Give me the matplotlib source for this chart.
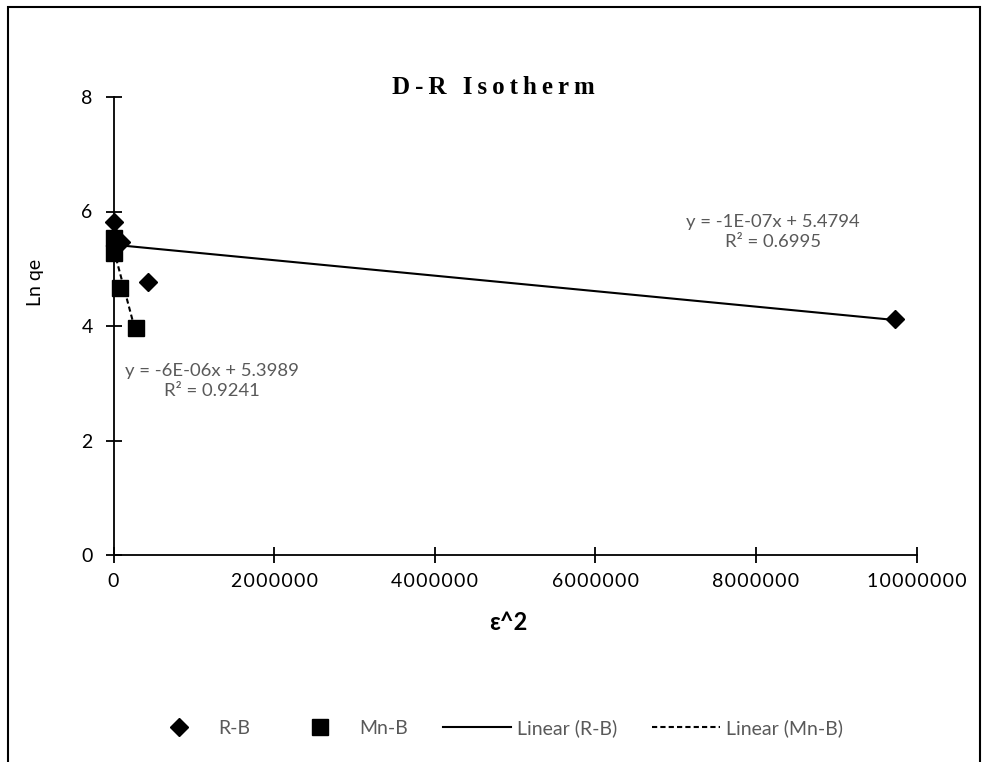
import numpy as np
import matplotlib
matplotlib.use('Agg')
import matplotlib.pyplot as plt
from matplotlib.patches import Rectangle
from matplotlib.lines import Line2D
from matplotlib.ticker import FuncFormatter

plt.rcParams['font.family'] = ['Lato', 'DejaVu Sans']

# values
rb_x = [5000, 20000, 90000, 432000, 9730000]
rb_y = [5.81, 5.55, 5.46, 4.76, 4.13]
mnb_x = [5000, 12000, 79000, 278000]
mnb_y = [5.53, 5.28, 4.66, 3.96]

x_ticks = [0, 2000000, 4000000, 6000000, 8000000, 10000000]
y_ticks = [0, 2, 4, 6, 8]

rb_eq = 'y = -1E-07x + 5.4794\nR² = 0.6995'
mnb_eq = 'y = -6E-06x + 5.3989\nR² = 0.9241'

W, H = 982, 762
DASH = (0, (2.5, 1.5))
fig = plt.figure(figsize=(W / 100, H / 100), dpi=100)

# chart area border (bottom edge falls outside the picture)
fig.patches.append(Rectangle((8 / W, -0.05), (980 - 8) / W, 1.05 - 7 / H,
                             transform=fig.transFigure, fill=False,
                             edgecolor='black', linewidth=1.5))

ax = fig.add_axes([113.5 / W, 1 - 555 / H, (916.7 - 113.5) / W, (555 - 97) / H])
ax.set_xlim(0, 10000000)
ax.set_ylim(0, 8)
ax.patch.set_alpha(0)
for s in ['top', 'right']:
    ax.spines[s].set_visible(False)
for s in ['left', 'bottom']:
    ax.spines[s].set_linewidth(1.3)

ax.set_xticks(x_ticks)
ax.set_yticks(y_ticks)
ax.xaxis.set_major_formatter(FuncFormatter(lambda v, p: '\u200a'.join(str(int(v)))))
ax.tick_params(direction='inout', length=12, width=1.3, labelsize=14,
               labelcolor='black')
ax.tick_params(axis='x', pad=7)
ax.tick_params(axis='y', pad=9)

# scatter points
ax.plot(rb_x, rb_y, linestyle='none', marker='D', markersize=9,
        color='black', clip_on=False, zorder=4)
ax.plot(mnb_x, mnb_y, linestyle='none', marker='s', markersize=11,
        color='black', clip_on=False, zorder=4)

# linear trendlines over each series' range
k1, b1 = np.polyfit(rb_x, rb_y, 1)
xs1 = np.array([min(rb_x), max(rb_x)])
ax.plot(xs1, k1 * xs1 + b1, color='black', linewidth=1.5, zorder=3)
k2, b2 = np.polyfit(mnb_x, mnb_y, 1)
xs2 = np.array([min(mnb_x), max(mnb_x)])
ax.plot(xs2, k2 * xs2 + b2, color='black', linewidth=1.5,
        linestyle=DASH, zorder=3)

# trendline equations
fig.text(773 / W, 1 - 232 / H, rb_eq, ha='center', va='center',
         fontsize=13.3, color='#595959', linespacing=1.3)
fig.text(212 / W, 1 - 381 / H, mnb_eq, ha='center', va='center',
         fontsize=13.3, color='#595959', linespacing=1.3)

# titles
title = '\u2009'.join('D-R Isotherm')
fig.text(493 / W, 1 - 88 / H, title, ha='center', va='center', fontsize=18,
         fontweight='bold', family=['Liberation Serif', 'DejaVu Serif'])
fig.text(508 / W, 1 - 623 / H, 'ε^2', ha='center', va='center',
         fontsize=17, fontweight='bold')
fig.text(36 / W, 1 - 282 / H, 'Ln qe', ha='center', va='center',
         fontsize=14, rotation=90)

handles = [
    Line2D([], [], linestyle='none', marker='D', markersize=9, color='black'),
    Line2D([], [], linestyle='none', marker='s', markersize=11, color='black'),
    Line2D([], [], color='black', linewidth=1.5),
    Line2D([], [], color='black', linewidth=1.5, linestyle=DASH),
]
labels = ['R-B', 'Mn-B', 'Linear (R-B)', 'Linear (Mn-B)']
leg = fig.legend(handles, labels, loc='center', ncol=4,
                 bbox_to_anchor=(494 / W, 1 - 728 / H), frameon=False,
                 fontsize=14, handlelength=3.5, handletextpad=0.3,
                 columnspacing=1.8, labelcolor='#595959')

fig.savefig('out.png', dpi=100)
